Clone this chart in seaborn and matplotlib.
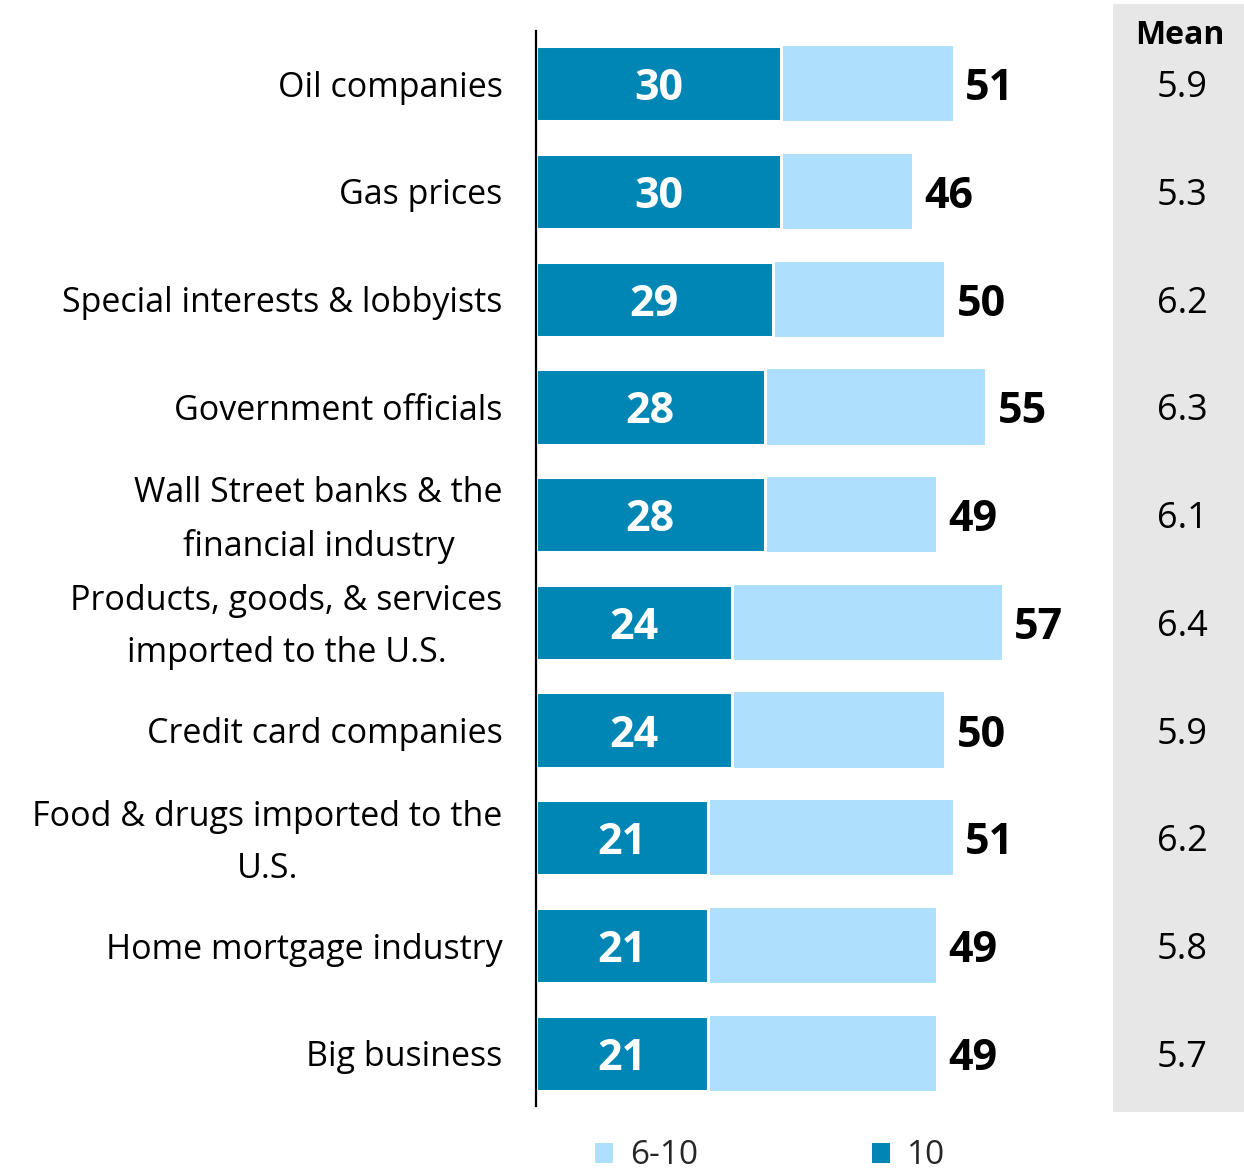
import matplotlib
matplotlib.use("Agg")
import matplotlib.pyplot as plt
import matplotlib.transforms as mtrans
import seaborn as sns
import pandas as pd
from matplotlib.patches import Rectangle, Patch

categories = [
    "Oil companies",
    "Gas prices",
    "Special interests & lobbyists",
    "Government officials",
    "Wall Street banks & the\nfinancial industry",
    "Products, goods, & services\nimported to the U.S.",
    "Credit card companies",
    "Food & drugs imported to the\nU.S.",
    "Home mortgage industry",
    "Big business",
]
top10 = [30, 30, 29, 28, 28, 24, 24, 21, 21, 21]
six_to_ten = [51, 46, 50, 55, 49, 57, 50, 51, 49, 49]
means = [5.9, 5.3, 6.2, 6.3, 6.1, 6.4, 5.9, 6.2, 5.8, 5.7]

DARK = "#0086B4"
LIGHT = "#AEDFFC"
GRAY = "#E7E7E7"

sns.set_theme(style="white")
plt.rcParams["font.family"] = ["Open Sans", "DejaVu Sans"]

df = pd.DataFrame({"cat": categories, "top10": top10, "six": six_to_ten, "mean": means})

fig = plt.figure(figsize=(12.44, 11.76), dpi=100)
W, H = 1244, 1176
ax_left, ax_right = 536, 1100
ax_top, ax_bot = 31, 1106
ax = fig.add_axes([ax_left / W, 1 - ax_bot / H, (ax_right - ax_left) / W, (ax_bot - ax_top) / H])
ax.set_facecolor("none")

# gray mean panel
fig.patches.append(Rectangle((1113 / W, 1 - 1112 / H), (W - 1113) / W, (1112 - 4) / H,
                             transform=fig.transFigure, facecolor=GRAY, edgecolor="none", zorder=-5))

sns.barplot(data=df, x="six", y="cat", color=LIGHT, width=0.7, ax=ax,
            orient="h", saturation=1, edgecolor="none", linewidth=0)
sns.barplot(data=df, x="top10", y="cat", color=DARK, width=0.7, ax=ax,
            orient="h", saturation=1, edgecolor="white", linewidth=2.2)

xmax = (ax_right - ax_left) / (245 / 30)
ax.set_xlim(0, xmax)
ax.set_ylim(9.49, -0.49)

t1 = ax.bar_label(ax.containers[0], labels=[str(v) for v in six_to_ten], padding=9,
                  fontsize=31, fontweight="bold", color="black")
t2 = ax.bar_label(ax.containers[1], labels=[str(v) for v in top10], label_type="center",
                  fontsize=31, fontweight="bold", color="white")
for t in list(t1) + list(t2):
    t.set_va("center_baseline")

ax.set_xlabel("")
ax.set_ylabel("")
ax.set_xticks([])
ax.tick_params(axis="y", length=0, pad=24, labelsize=24.5)

for s in ["top", "right", "bottom"]:
    ax.spines[s].set_visible(False)
ax.spines["left"].set_color("black")
ax.spines["left"].set_linewidth(1.6)

# mean column
xm = (1182 - ax_left) / (245 / 30)
for i, m in enumerate(means):
    ax.text(xm, i, f"{m:.1f}", ha="center", va="center_baseline", fontsize=26, color="black",
            clip_on=False, zorder=10)
fig.text(1180 / W, 1 - 35 / H, "Mean", ha="center", va="center", fontsize=23,
         fontweight="bold", color="black")

handles = [Patch(facecolor=LIGHT, edgecolor="none"), Patch(facecolor=DARK, edgecolor="none")]
fig.legend(handles, ["6-10", "10"], loc="center", bbox_to_anchor=(770 / W, 1 - 1156 / H),
           ncol=2, frameon=False, fontsize=24, handlelength=0.55, handleheight=0.55,
           handletextpad=0.5, columnspacing=5.2, borderpad=0)

shift = mtrans.ScaledTranslation(0, -5 / 100, fig.dpi_scale_trans)
for tick in ax.yaxis.get_major_ticks():
    lbl = tick.label1
    lbl.set_multialignment("center")
    lbl.set_linespacing(1.7)
    lbl.set_color("black")
    if "\n" in lbl.get_text():
        lbl.set_va("center")
        lbl.set_transform(lbl.get_transform() + shift)

fig.savefig("out.png", dpi=100)
